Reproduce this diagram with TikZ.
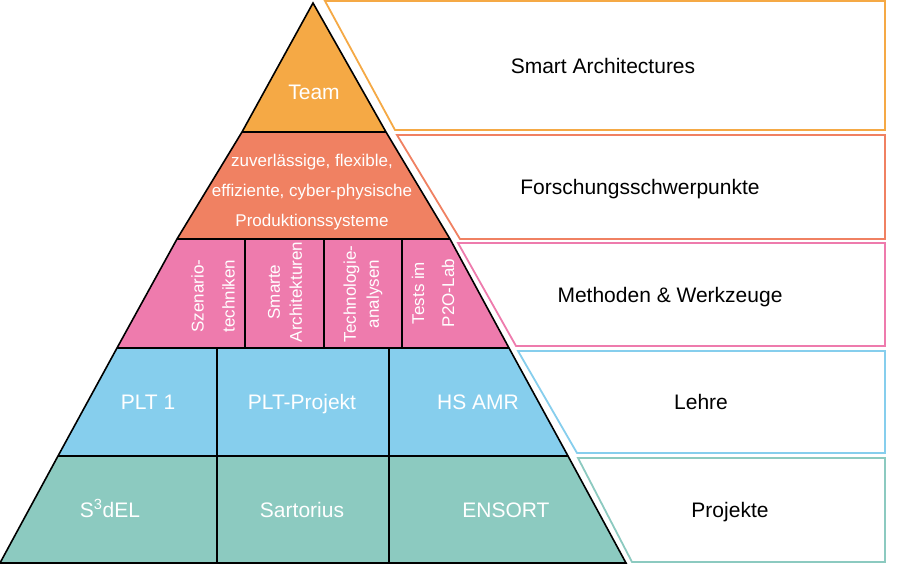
\documentclass[tikz,border=0pt]{standalone}
\usepackage{fontspec}
\setmainfont{Liberation Sans}
\usepackage{xcolor}
\usetikzlibrary{calc}
\definecolor{teamorange}{HTML}{F5A945}
\definecolor{fsalmon}{HTML}{F08162}
\definecolor{mpink}{HTML}{EE7BAD}
\definecolor{lblue}{HTML}{86CEED}
\definecolor{pteal}{HTML}{8CCAC0}

\begin{document}
\begin{tikzpicture}[x=1pt, y=-1pt,
  band/.style={draw=black, line width=1.6pt, line join=miter},
  sidebox/.style={draw=#1, line width=1.8pt, fill=white},
  wlabel/.style={text=white, text height=19pt, text depth=4pt, font=\fontsize{21}{25}\selectfont},
  blabel/.style={text=black, text height=19pt, text depth=4pt, font=\fontsize{21}{25}\selectfont},
  vlabel/.style={text=white, rotate=90, align=center, inner sep=1pt, font=\fontsize{17}{#1}\selectfont}]

\useasboundingbox[fill=white] (0,0) rectangle (900,567);

% side boxes
\draw[sidebox=teamorange] (325,1) -- (885,1) -- (885,130) -- (395,130) -- cycle;
\draw[sidebox=fsalmon] (397,135) -- (885,135) -- (885,239) -- (460,239) -- cycle;
\draw[sidebox=mpink] (458,243) -- (885,243) -- (885,346) -- (516,346) -- cycle;
\draw[sidebox=lblue] (518,351) -- (885,351) -- (885,453) -- (577,453) -- cycle;
\draw[sidebox=pteal] (578,458) -- (885,458) -- (885,562) -- (632,562) -- cycle;

\node[blabel] (smart) at (603,66) {Smart Architectures};
\node[blabel] (forsch) at (640,187) {Forschungsschwerpunkte};
\node[blabel] (method) at (670,295) {Methoden \& Werkzeuge};
\node[blabel] (lehre) at (701,402) {Lehre};
\node[blabel] (projekte) at (730,510) {Projekte};

% pyramid
\coordinate (apex) at (313,3);
\fill[teamorange] (apex) -- (386,132) -- (242,132) -- cycle;
\fill[fsalmon] (242,132) -- (386,132) -- (450,239) -- (177,239) -- cycle;
\fill[mpink] (177,239) -- (450,239) -- (509,348) -- (117,348) -- cycle;
\fill[lblue] (117,348) -- (509,348) -- (568,456) -- (58,456) -- cycle;
\fill[pteal] (58,456) -- (568,456) -- (626,563) -- (0,563) -- cycle;

\draw[band] (apex) -- (386,132) -- (450,239) -- (509,348) -- (568,456) -- (626,563)
  -- (0,563) -- (58,456) -- (117,348) -- (177,239) -- (242,132) -- cycle;
\draw[band] (242,132) -- (386,132);
\draw[band] (177,239) -- (450,239);
\draw[band] (117,348) -- (509,348);
\draw[band] (58,456) -- (568,456);
\foreach \x in {245,324,402} \draw[band] (\x,239) -- (\x,348);
\foreach \x in {217,389} \draw[band] (\x,348) -- (\x,563);

\node[wlabel] (team) at (314,92) {Team};
\node[text=white, align=center, font=\fontsize{17}{30}\selectfont] (prod) at (312,192)
  {zuverlässige, flexible,\\effiziente, cyber-physische\\Produktionssysteme};

\node[vlabel=31, fill=mpink] (szen) at (213,296) {Szenario-\\techniken};
\node[vlabel=22, fill=mpink] (smarte) at (285,292) {Smarte\\Architekturen};
\node[vlabel=23, fill=mpink] (techno) at (363,294) {Technologie-\\analysen};
\node[vlabel=30, fill=mpink] (tests) at (433,293) {Tests im\\P2O-Lab};

\node[wlabel] (plt) at (148,402) {PLT 1};
\node[wlabel] (pltp) at (302,402) {PLT-Projekt};
\node[wlabel] (hsamr) at (478,402) {HS AMR};
\node[wlabel] (sdel) at (110,510) {S\textsuperscript{3}dEL};
\node[wlabel] (sart) at (302,510) {Sartorius};
\node[wlabel] (ensort) at (506,510) {ENSORT};

\end{tikzpicture}
\end{document}
